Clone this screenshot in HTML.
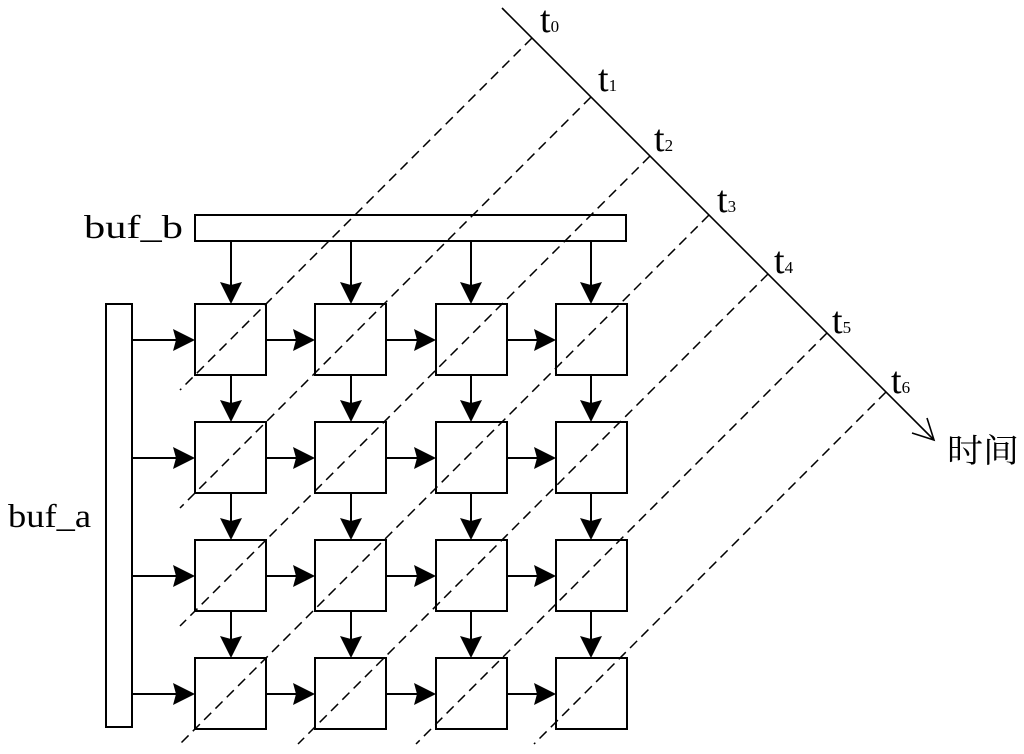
<!DOCTYPE html>
<html><head><meta charset="utf-8"><style>
html,body{margin:0;padding:0;background:#fff;width:1024px;height:754px;overflow:hidden}
svg{display:block}
text{font-family:"Liberation Serif","Times New Roman","Noto Serif CJK SC",serif}
</style></head><body>
<svg width="1024" height="754" viewBox="0 0 1024 754" xmlns="http://www.w3.org/2000/svg">
<g stroke="#000" stroke-width="2" fill="none">
<rect x="195" y="215" width="431" height="26" fill="#fff"/>
<rect x="106" y="304" width="26" height="423" fill="#fff"/>
<path d="M231,241V288 M351,241V288 M471,241V288 M591,241V288
M231,375V406 M351,375V406 M471,375V406 M591,375V406
M231,493V524 M351,493V524 M471,493V524 M591,493V524
M231,611V642 M351,611V642 M471,611V642 M591,611V642
M132,340H179 M266,340H299 M386,340H420 M507,340H540
M132,458H179 M266,458H299 M386,458H420 M507,458H540
M132,576H179 M266,576H299 M386,576H420 M507,576H540
M132,694H179 M266,694H299 M386,694H420 M507,694H540"/>
</g>
<g fill="#000">
<path d="M220,282 L231,304 L242,282 L231,285Z"/><path d="M340,282 L351,304 L362,282 L351,285Z"/><path d="M460,282 L471,304 L482,282 L471,285Z"/><path d="M580,282 L591,304 L602,282 L591,285Z"/>
<path d="M220,400 L231,422 L242,400 L231,403Z"/><path d="M340,400 L351,422 L362,400 L351,403Z"/><path d="M460,400 L471,422 L482,400 L471,403Z"/><path d="M580,400 L591,422 L602,400 L591,403Z"/>
<path d="M220,518 L231,540 L242,518 L231,521Z"/><path d="M340,518 L351,540 L362,518 L351,521Z"/><path d="M460,518 L471,540 L482,518 L471,521Z"/><path d="M580,518 L591,540 L602,518 L591,521Z"/>
<path d="M220,636 L231,658 L242,636 L231,639Z"/><path d="M340,636 L351,658 L362,636 L351,639Z"/><path d="M460,636 L471,658 L482,636 L471,639Z"/><path d="M580,636 L591,658 L602,636 L591,639Z"/>
<path d="M173,329 L195,340 L173,351 L176,340Z"/><path d="M293,329 L315,340 L293,351 L296,340Z"/><path d="M414,329 L436,340 L414,351 L417,340Z"/><path d="M534,329 L556,340 L534,351 L537,340Z"/>
<path d="M173,447 L195,458 L173,469 L176,458Z"/><path d="M293,447 L315,458 L293,469 L296,458Z"/><path d="M414,447 L436,458 L414,469 L417,458Z"/><path d="M534,447 L556,458 L534,469 L537,458Z"/>
<path d="M173,565 L195,576 L173,587 L176,576Z"/><path d="M293,565 L315,576 L293,587 L296,576Z"/><path d="M414,565 L436,576 L414,587 L417,576Z"/><path d="M534,565 L556,576 L534,587 L537,576Z"/>
<path d="M173,683 L195,694 L173,705 L176,694Z"/><path d="M293,683 L315,694 L293,705 L296,694Z"/><path d="M414,683 L436,694 L414,705 L417,694Z"/><path d="M534,683 L556,694 L534,705 L537,694Z"/>
</g>
<g stroke="#000" stroke-width="2" fill="#fff">
<rect x="195" y="304" width="71" height="71"/><rect x="315" y="304" width="71" height="71"/><rect x="436" y="304" width="71" height="71"/><rect x="556" y="304" width="71" height="71"/>
<rect x="195" y="422" width="71" height="71"/><rect x="315" y="422" width="71" height="71"/><rect x="436" y="422" width="71" height="71"/><rect x="556" y="422" width="71" height="71"/>
<rect x="195" y="540" width="71" height="71"/><rect x="315" y="540" width="71" height="71"/><rect x="436" y="540" width="71" height="71"/><rect x="556" y="540" width="71" height="71"/>
<rect x="195" y="658" width="71" height="71"/><rect x="315" y="658" width="71" height="71"/><rect x="436" y="658" width="71" height="71"/><rect x="556" y="658" width="71" height="71"/>
</g>
<g stroke="#000" stroke-width="1.5" stroke-dasharray="10,6" fill="none">
<line x1="532" y1="38" x2="180" y2="390"/>
<line x1="591" y1="97" x2="180" y2="508"/>
<line x1="650" y1="156" x2="180" y2="626"/>
<line x1="709" y1="215" x2="180" y2="744"/>
<line x1="768" y1="274" x2="298" y2="744"/>
<line x1="827" y1="333" x2="416" y2="744"/>
<line x1="886" y1="392" x2="534" y2="744"/>
</g>
<g stroke="#000" stroke-width="1.6" fill="none">
<line x1="502" y1="8" x2="934" y2="440"/>
<polyline points="927,418 934,440 912,433"/>
</g>
<g fill="#000">
<text x="540" y="32" font-size="38">t<tspan font-size="17">0</tspan></text>
<text x="598" y="91" font-size="38">t<tspan font-size="17">1</tspan></text>
<text x="654" y="151" font-size="38">t<tspan font-size="17">2</tspan></text>
<text x="717" y="212" font-size="38">t<tspan font-size="17">3</tspan></text>
<text x="774" y="273" font-size="38">t<tspan font-size="17">4</tspan></text>
<text x="832" y="333" font-size="38">t<tspan font-size="17">5</tspan></text>
<text x="891" y="393" font-size="38">t<tspan font-size="17">6</tspan></text>
<text x="84" y="238" font-size="33" textLength="99" lengthAdjust="spacingAndGlyphs">buf_b</text>
<text x="8" y="527" font-size="33" textLength="83" lengthAdjust="spacingAndGlyphs">buf_a</text>
<text x="947" y="462" font-size="33" textLength="72" lengthAdjust="spacingAndGlyphs">时间</text>
</g>
</svg>
</body></html>
